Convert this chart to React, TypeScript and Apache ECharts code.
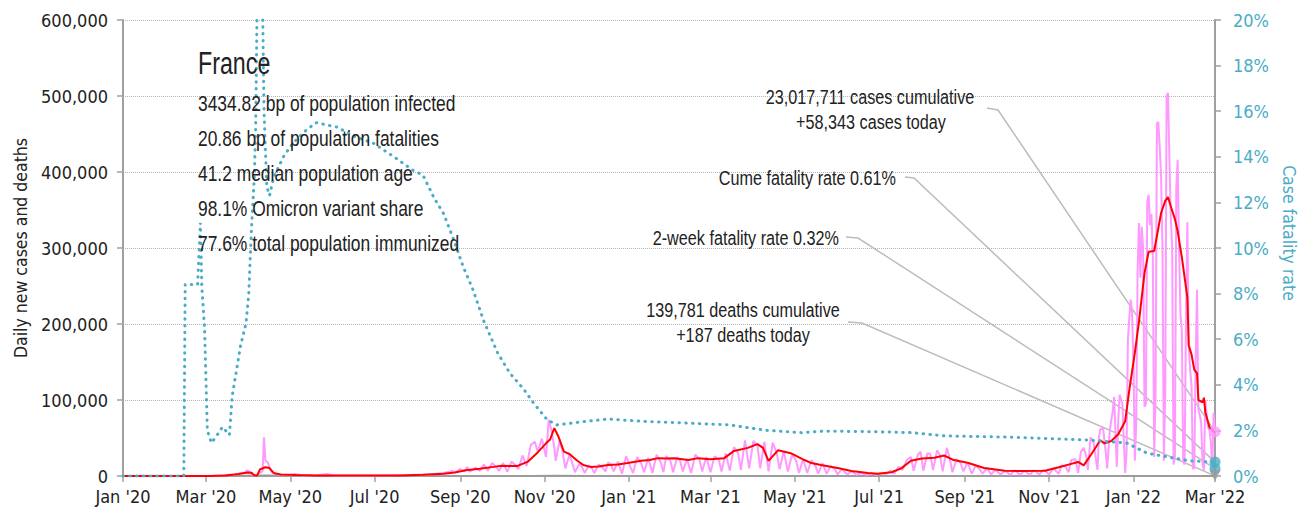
import React, { useEffect, useRef } from 'react';
import * as echarts from 'echarts';

const AXIS_FONT = '"DejaVu Sans Condensed", "Liberation Sans", sans-serif';
const TEXT_FONT = '"Liberation Sans", Arial, sans-serif';
const TEAL = '#4bacc6';
const PINK = '#ff99ff';
const RED = '#ff0000';
const AXIS_GRAY = '#a0a0a0';
const LEADER_GRAY = '#bcbcbc';
const TEXT = '#222222';

const xTickDates = [
  '2020-01-01', '2020-03-01', '2020-05-01', '2020-07-01', '2020-09-01', '2020-11-01',
  '2021-01-01', '2021-03-01', '2021-05-01', '2021-07-01', '2021-09-01', '2021-11-01',
  '2022-01-01', '2022-03-01',
];
const monthNames = ['Jan', 'Feb', 'Mar', 'Apr', 'May', 'Jun', 'Jul', 'Aug', 'Sep', 'Oct', 'Nov', 'Dec'];

const firstDate = '2020-01-01';
const lastDate = '2022-03-01';
const casesMax = 600000;
const casesInterval = 100000;
const cfrMax = 20;
const cfrInterval = 2;

// daily new cases (pink)
const dailyCases: [string, number][] = [
  ['2020-01-01', 0], ['2020-02-25', 0], ['2020-03-05', 150], ['2020-03-12', 500], ['2020-03-18', 1500],
  ['2020-03-22', 1800], ['2020-03-26', 3800], ['2020-03-29', 4600], ['2020-03-31', 7500], ['2020-04-02', 5200],
  ['2020-04-04', 1200], ['2020-04-06', 300], ['2020-04-09', 4000], ['2020-04-11', 6000], ['2020-04-12', 51000],
  ['2020-04-13', 21000], ['2020-04-15', 17000], ['2020-04-17', 6000], ['2020-04-20', 2500], ['2020-04-25', 1800],
  ['2020-05-01', 1200], ['2020-05-05', 2500], ['2020-05-10', 600], ['2020-05-20', 900], ['2020-05-28', 2800],
  ['2020-06-02', 500], ['2020-06-15', 600], ['2020-07-01', 700], ['2020-07-15', 900], ['2020-07-30', 1500],
  ['2020-08-10', 2000], ['2020-08-20', 4000], ['2020-08-26', 6500], ['2020-08-29', 5000], ['2020-09-01', 9500],
  ['2020-09-04', 6000], ['2020-09-06', 12000], ['2020-09-08', 5500], ['2020-09-12', 11000], ['2020-09-15', 6500],
  ['2020-09-18', 15000], ['2020-09-21', 7000], ['2020-09-24', 17000], ['2020-09-27', 12000], ['2020-09-29', 6500],
  ['2020-10-02', 17000], ['2020-10-05', 5500], ['2020-10-08', 19000], ['2020-10-11', 14000], ['2020-10-13', 9000],
  ['2020-10-16', 27000], ['2020-10-19', 13000], ['2020-10-22', 41000], ['2020-10-25', 45000], ['2020-10-27', 32000],
  ['2020-10-30', 49000], ['2020-11-02', 25000], ['2020-11-04', 74000], ['2020-11-06', 60000], ['2020-11-08', 38000],
  ['2020-11-09', 20000], ['2020-11-12', 48000], ['2020-11-14', 32000], ['2020-11-16', 10000], ['2020-11-19', 28000],
  ['2020-11-21', 17000], ['2020-11-23', 5000], ['2020-11-26', 16000], ['2020-11-28', 12000], ['2020-11-30', 4000],
  ['2020-12-03', 14000], ['2020-12-05', 11000], ['2020-12-07', 4000], ['2020-12-10', 15000], ['2020-12-13', 11000],
  ['2020-12-15', 6000], ['2020-12-17', 18000], ['2020-12-19', 15000], ['2020-12-21', 6000], ['2020-12-24', 19000],
  ['2020-12-27', 3000], ['2020-12-30', 26000], ['2021-01-02', 12000], ['2021-01-04', 4000], ['2021-01-07', 25000],
  ['2021-01-10', 16000], ['2021-01-12', 5000], ['2021-01-15', 24000], ['2021-01-18', 4000], ['2021-01-21', 28000],
  ['2021-01-24', 18000], ['2021-01-26', 5000], ['2021-01-28', 26000], ['2021-01-31', 20000], ['2021-02-02', 5000],
  ['2021-02-05', 25000], ['2021-02-07', 20000], ['2021-02-09', 6000], ['2021-02-12', 22000], ['2021-02-15', 4000],
  ['2021-02-18', 28000], ['2021-02-21', 22000], ['2021-02-23', 6000], ['2021-02-26', 25000], ['2021-03-01', 5000],
  ['2021-03-04', 26000], ['2021-03-07', 22000], ['2021-03-09', 6000], ['2021-03-12', 30000], ['2021-03-15', 7000],
  ['2021-03-18', 38000], ['2021-03-21', 30000], ['2021-03-23', 8000], ['2021-03-26', 47000], ['2021-03-29', 10000],
  ['2021-04-01', 46000], ['2021-04-04', 40000], ['2021-04-06', 10000], ['2021-04-09', 45000], ['2021-04-12', 6000],
  ['2021-04-15', 44000], ['2021-04-18', 30000], ['2021-04-20', 9000], ['2021-04-23', 33000], ['2021-04-26', 6000],
  ['2021-04-29', 28000], ['2021-05-02', 20000], ['2021-05-04', 4000], ['2021-05-07', 22000], ['2021-05-10', 4000],
  ['2021-05-13', 21000], ['2021-05-16', 13000], ['2021-05-18', 3000], ['2021-05-21', 17000], ['2021-05-24', 3000],
  ['2021-05-27', 13000], ['2021-05-30', 9000], ['2021-06-01', 2000], ['2021-06-04', 9000], ['2021-06-08', 2000],
  ['2021-06-11', 6000], ['2021-06-15', 1500], ['2021-06-18', 4000], ['2021-06-22', 1500], ['2021-06-25', 3500],
  ['2021-06-29', 1500], ['2021-07-02', 3500], ['2021-07-06', 2500], ['2021-07-09', 7000], ['2021-07-12', 3000],
  ['2021-07-15', 12000], ['2021-07-18', 8000], ['2021-07-21', 21000], ['2021-07-24', 25000], ['2021-07-26', 7000],
  ['2021-07-29', 28000], ['2021-07-31', 32000], ['2021-08-02', 7000], ['2021-08-05', 30000], ['2021-08-07', 29000],
  ['2021-08-09', 8000], ['2021-08-12', 34000], ['2021-08-14', 27000], ['2021-08-16', 6000], ['2021-08-19', 37000],
  ['2021-08-21', 24000], ['2021-08-23', 5000], ['2021-08-26', 22000], ['2021-08-29', 17000], ['2021-08-31', 6000],
  ['2021-09-03', 18000], ['2021-09-06', 3000], ['2021-09-09', 14000], ['2021-09-12', 8000], ['2021-09-14', 3000],
  ['2021-09-17', 11000], ['2021-09-20', 2000], ['2021-09-23', 8000], ['2021-09-27', 2000], ['2021-09-30', 7000],
  ['2021-10-04', 1500], ['2021-10-07', 7500], ['2021-10-11', 1500], ['2021-10-14', 7000], ['2021-10-18', 1500],
  ['2021-10-21', 7500], ['2021-10-25', 2000], ['2021-10-28', 8500], ['2021-11-01', 2000], ['2021-11-04', 10000],
  ['2021-11-08', 3000], ['2021-11-10', 14000], ['2021-11-13', 12000], ['2021-11-15', 5000], ['2021-11-17', 21000],
  ['2021-11-20', 22000], ['2021-11-22', 4000], ['2021-11-24', 32000], ['2021-11-26', 37000], ['2021-11-28', 25000],
  ['2021-11-29', 8000], ['2021-12-01', 51000], ['2021-12-03', 45000], ['2021-12-05', 20000], ['2021-12-06', 8000],
  ['2021-12-07', 50000], ['2021-12-08', 61000], ['2021-12-10', 64000], ['2021-12-12', 30000], ['2021-12-13', 10000],
  ['2021-12-15', 62000], ['2021-12-17', 85000], ['2021-12-18', 104000], ['2021-12-20', 12000], ['2021-12-21', 72000],
  ['2021-12-22', 107000], ['2021-12-24', 95000], ['2021-12-26', 4000], ['2021-12-27', 30000], ['2021-12-28', 180000],
  ['2021-12-29', 208000], ['2021-12-30', 232000], ['2021-12-31', 215000], ['2022-01-01', 150000], ['2022-01-02', 20000],
  ['2022-01-03', 67000], ['2022-01-04', 270000], ['2022-01-05', 333000], ['2022-01-06', 261000], ['2022-01-07', 328000],
  ['2022-01-08', 300000], ['2022-01-09', 91000], ['2022-01-10', 95000], ['2022-01-11', 360000], ['2022-01-12', 370000],
  ['2022-01-13', 330000], ['2022-01-14', 345000], ['2022-01-15', 290000], ['2022-01-16', 25000], ['2022-01-17', 104000],
  ['2022-01-18', 464000], ['2022-01-19', 466000], ['2022-01-20', 433000], ['2022-01-21', 394000], ['2022-01-22', 300000],
  ['2022-01-23', 20000], ['2022-01-24', 109000], ['2022-01-25', 500000], ['2022-01-26', 504000], ['2022-01-27', 420000],
  ['2022-01-28', 341000], ['2022-01-29', 300000], ['2022-01-30', 15000], ['2022-01-31', 25000], ['2022-02-01', 380000],
  ['2022-02-02', 416000], ['2022-02-03', 300000], ['2022-02-04', 214000], ['2022-02-05', 190000], ['2022-02-06', 20000],
  ['2022-02-07', 15000], ['2022-02-08', 200000], ['2022-02-09', 334000], ['2022-02-10', 170000], ['2022-02-11', 140000],
  ['2022-02-12', 120000], ['2022-02-13', 10000], ['2022-02-14', 10000], ['2022-02-15', 150000], ['2022-02-16', 245000],
  ['2022-02-17', 87000], ['2022-02-18', 80000], ['2022-02-19', 70000], ['2022-02-20', 15000], ['2022-02-21', 8000],
  ['2022-02-22', 100000], ['2022-02-23', 80000], ['2022-02-24', 64000], ['2022-02-25', 60000], ['2022-02-26', 45000],
  ['2022-02-27', 4000], ['2022-02-28', 83000], ['2022-03-01', 58343],
];

// 7-day average new cases (red)
const avgCases: [string, number][] = [
  ['2020-01-01', 0], ['2020-02-25', 0], ['2020-03-05', 100], ['2020-03-15', 600], ['2020-03-25', 2500],
  ['2020-03-31', 4500], ['2020-04-03', 4200], ['2020-04-05', 600], ['2020-04-07', 500], ['2020-04-09', 8500],
  ['2020-04-13', 11500], ['2020-04-16', 10500], ['2020-04-19', 4000], ['2020-04-24', 2000], ['2020-05-05', 1200],
  ['2020-05-20', 700], ['2020-06-10', 500], ['2020-07-01', 500], ['2020-07-20', 800], ['2020-08-05', 1500],
  ['2020-08-20', 3000], ['2020-08-28', 4500], ['2020-09-05', 7500], ['2020-09-15', 9500], ['2020-09-25', 12000],
  ['2020-10-01', 13500], ['2020-10-12', 13000], ['2020-10-20', 19000], ['2020-10-27', 31000], ['2020-11-02', 43000],
  ['2020-11-05', 48000], ['2020-11-08', 63000], ['2020-11-11', 52000], ['2020-11-15', 32000], ['2020-11-19', 29000],
  ['2020-11-24', 21000], ['2020-11-29', 14500], ['2020-12-04', 12000], ['2020-12-10', 12500], ['2020-12-17', 14500],
  ['2020-12-24', 15000], ['2020-12-31', 17000], ['2021-01-10', 20000], ['2021-01-16', 21000], ['2021-01-22', 23500],
  ['2021-01-28', 23000], ['2021-02-03', 23500], ['2021-02-13', 21000], ['2021-02-20', 23500], ['2021-03-01', 22000],
  ['2021-03-11', 23500], ['2021-03-18', 33000], ['2021-03-28', 37000], ['2021-04-04', 42000], ['2021-04-08', 37000],
  ['2021-04-12', 20000], ['2021-04-19', 34000], ['2021-04-28', 30000], ['2021-05-08', 21000], ['2021-05-13', 17000],
  ['2021-05-20', 14500], ['2021-06-01', 10500], ['2021-06-11', 6500], ['2021-06-23', 4000], ['2021-06-30', 3000],
  ['2021-07-10', 5000], ['2021-07-17', 10000], ['2021-07-24', 20000], ['2021-08-01', 23000], ['2021-08-10', 24000],
  ['2021-08-17', 27000], ['2021-08-24', 21000], ['2021-09-03', 17500], ['2021-09-15', 10500], ['2021-09-30', 7000],
  ['2021-10-14', 6500], ['2021-10-29', 7000], ['2021-11-08', 11500], ['2021-11-17', 16000], ['2021-11-22', 18500],
  ['2021-11-26', 14000], ['2021-12-02', 30000], ['2021-12-08', 47000], ['2021-12-11', 43000], ['2021-12-16', 46000],
  ['2021-12-21', 55000], ['2021-12-26', 72000], ['2021-12-29', 113000], ['2022-01-02', 162000], ['2022-01-05', 203000],
  ['2022-01-09', 267000], ['2022-01-12', 295000], ['2022-01-16', 296000], ['2022-01-21', 346000], ['2022-01-24', 362000],
  ['2022-01-26', 367000], ['2022-01-28', 355000], ['2022-01-31', 338000], ['2022-02-02', 322000], ['2022-02-05', 288000],
  ['2022-02-09', 235000], ['2022-02-10', 172000], ['2022-02-12', 160000], ['2022-02-14', 140000], ['2022-02-16', 135000],
  ['2022-02-17', 100000], ['2022-02-20', 97000], ['2022-02-21', 103000], ['2022-02-22', 84000], ['2022-02-25', 64000],
  ['2022-03-01', 57000],
];

// daily deaths (grey)
const dailyDeaths: [string, number][] = [
  ['2020-01-01', 0], ['2020-03-10', 10], ['2020-03-25', 300], ['2020-04-05', 1000], ['2020-04-15', 900],
  ['2020-05-01', 300], ['2020-06-01', 50], ['2020-08-01', 20], ['2020-10-01', 60], ['2020-11-10', 600],
  ['2020-12-01', 400], ['2021-01-15', 350], ['2021-04-15', 350], ['2021-06-15', 50], ['2021-08-20', 130],
  ['2021-10-15', 30], ['2021-12-15', 150], ['2022-02-01', 250], ['2022-03-01', 187],
];

// case fatality rate, % (teal, right axis)
const caseFatalityRate: [string, number][] = [
  ['2020-01-01', 0], ['2020-02-14', 0], ['2020-02-15', 8.4], ['2020-02-24', 8.4], ['2020-02-26', 11.1],
  ['2020-02-27', 8.3], ['2020-02-29', 6.5], ['2020-03-02', 2.0], ['2020-03-05', 1.45], ['2020-03-08', 1.7],
  ['2020-03-13', 2.15], ['2020-03-18', 1.8], ['2020-03-20', 3.5], ['2020-03-23', 4.6], ['2020-03-26', 5.7],
  ['2020-03-30', 6.7], ['2020-04-01', 8.0], ['2020-04-02', 9.5], ['2020-04-03', 10.9], ['2020-04-05', 13.1],
  ['2020-04-06', 15.3], ['2020-04-07', 20.5], ['2020-04-09', 24], ['2020-04-11', 20.5], ['2020-04-12', 16],
  ['2020-04-14', 12.7], ['2020-04-16', 12.3], ['2020-04-19', 13.1], ['2020-04-26', 14.0], ['2020-05-03', 14.6],
  ['2020-05-13', 15.2], ['2020-05-20', 15.5], ['2020-05-27', 15.4], ['2020-06-04', 15.3], ['2020-06-16', 14.9],
  ['2020-06-30', 14.6], ['2020-07-15', 14.0], ['2020-07-29', 13.4], ['2020-08-05', 13.2], ['2020-08-13', 12.2],
  ['2020-08-20', 11.5], ['2020-08-27', 10.4], ['2020-09-03', 9.2], ['2020-09-10', 8.2], ['2020-09-18', 6.8],
  ['2020-09-28', 5.4], ['2020-10-07', 4.5], ['2020-10-17', 3.8], ['2020-10-24', 3.2], ['2020-11-03', 2.46],
  ['2020-11-10', 2.24], ['2020-11-27', 2.37], ['2020-12-17', 2.5], ['2021-01-10', 2.4], ['2021-02-20', 2.3],
  ['2021-03-15', 2.24], ['2021-04-11', 2.0], ['2021-05-06', 1.9], ['2021-05-22', 1.97], ['2021-06-30', 1.94],
  ['2021-07-25', 1.9], ['2021-08-17', 1.76], ['2021-10-05', 1.7], ['2021-11-29', 1.58], ['2021-12-16', 1.5],
  ['2021-12-27', 1.45], ['2022-01-11', 1.0], ['2022-01-26', 0.83], ['2022-02-11', 0.66], ['2022-03-01', 0.61],
];

const casesToday = 58343;
const deathsToday = 187;
const cumeFatalityRate = 0.61;
const twoWeekFatalityRate = 0.32;

const countryName = 'France';
const infoLines = [
  '3434.82 bp of population infected',
  '20.86 bp of population fatalities',
  '41.2 median population age',
  '98.1% Omicron variant share',
  '77.6% total population immunized',
];

const toTs = (s: string) => {
  const [y, m, d] = s.split('-').map(Number);
  return new Date(y, m - 1, d).getTime();
};
const conv = (arr: [string, number][]) => arr.map(([d, v]) => [toTs(d), v]);
const fmtDate = (v: number) => {
  const d = new Date(v);
  return `${monthNames[d.getMonth()]} '${String(d.getFullYear()).slice(2)}`;
};

export default function App() {
  const ref = useRef<HTMLDivElement>(null);
  useEffect(() => {
    if (!ref.current) return;
    const chart = echarts.init(ref.current, undefined, { renderer: 'svg' });
    const tickTs = xTickDates.map(toTs);
    const endTs = toTs(lastDate);
    const axisFont = { fontFamily: AXIS_FONT, fontSize: 18 };

    chart.setOption({
      animation: false,
      backgroundColor: '#ffffff',
      grid: { left: 123, right: 91, top: 20, bottom: 37, containLabel: false, outerBoundsMode: 'none' },
      xAxis: {
        type: 'value',
        min: toTs(firstDate),
        max: endTs,
        axisLine: { show: true, onZero: false, lineStyle: { color: AXIS_GRAY, width: 2 } },
        axisTick: { show: true, length: 6, customValues: tickTs, lineStyle: { color: AXIS_GRAY, width: 1.5 } },
        axisLabel: {
          customValues: tickTs,
          formatter: (v: number) => fmtDate(v),
          color: TEXT,
          margin: 11,
          hideOverlap: false,
          showMinLabel: true,
          showMaxLabel: true,
          ...axisFont,
        },
        splitLine: { show: false },
      },
      yAxis: [
        {
          type: 'value',
          min: 0,
          max: casesMax,
          interval: casesInterval,
          position: 'left',
          name: 'Daily new cases and deaths',
          nameLocation: 'middle',
          nameGap: 80,
          nameTextStyle: { color: TEXT, ...axisFont, fontSize: 17.5 },
          axisLine: { show: true, lineStyle: { color: AXIS_GRAY, width: 2 } },
          axisTick: { show: true, length: 6, lineStyle: { color: AXIS_GRAY, width: 1.5 } },
          axisLabel: {
            color: TEXT,
            margin: 15,
            formatter: (v: number) => v.toLocaleString('en-US'),
            ...axisFont,
          },
          splitLine: { show: true, lineStyle: { color: '#b4b4b4', type: 'dotted', width: 1 } },
        },
        {
          type: 'value',
          min: 0,
          max: cfrMax,
          interval: cfrInterval,
          position: 'right',
          name: 'Case fatality rate',
          nameLocation: 'middle',
          nameGap: 56,
          nameRotate: -90,
          nameTextStyle: { color: TEAL, ...axisFont, fontSize: 17.5, padding: [0, 30, 0, 0] },
          axisLine: { show: true, lineStyle: { color: AXIS_GRAY, width: 2 } },
          axisTick: { show: true, length: 6, lineStyle: { color: AXIS_GRAY, width: 1.5 } },
          axisLabel: { color: TEAL, margin: 18, formatter: (v: number) => `${v}%`, ...axisFont },
          splitLine: { show: false },
        },
      ],
      series: [
        {
          name: 'Daily deaths',
          type: 'line',
          yAxisIndex: 0,
          data: conv(dailyDeaths),
          symbol: 'none',
          lineStyle: { color: '#9a9a9a', width: 1.5 },
          z: 2,
        },
        {
          name: 'Daily cases',
          type: 'line',
          yAxisIndex: 0,
          data: conv(dailyCases),
          symbol: 'none',
          lineStyle: { color: PINK, width: 2 },
          z: 3,
        },
        {
          name: '7-day average',
          type: 'line',
          yAxisIndex: 0,
          data: conv(avgCases),
          symbol: 'none',
          lineStyle: { color: RED, width: 2 },
          z: 4,
        },
        {
          name: 'Case fatality rate',
          type: 'line',
          yAxisIndex: 1,
          data: conv(caseFatalityRate),
          symbol: 'none',
          lineStyle: { color: TEAL, width: 3, type: [0.5, 6.3], cap: 'round' },
          z: 5,
        },
        {
          type: 'scatter',
          yAxisIndex: 0,
          data: [[endTs, casesToday]],
          symbol: 'circle',
          symbolSize: 11,
          itemStyle: { color: PINK },
          clip: false,
          z: 6,
        },
        {
          type: 'scatter',
          yAxisIndex: 1,
          data: [[endTs, cumeFatalityRate], [endTs, twoWeekFatalityRate]],
          symbol: 'circle',
          symbolSize: 11,
          itemStyle: { color: TEAL },
          clip: false,
          z: 6,
        },
        {
          type: 'scatter',
          yAxisIndex: 0,
          data: [[endTs, deathsToday]],
          symbol: 'triangle',
          symbolRotate: 180,
          symbolSize: 11,
          itemStyle: { color: '#9a9a9a' },
          clip: false,
          z: 6,
        },
      ],
    });

    const pCases = chart.convertToPixel({ xAxisIndex: 0, yAxisIndex: 0 }, [endTs, casesToday]) as number[];
    const pCume = chart.convertToPixel({ xAxisIndex: 0, yAxisIndex: 1 }, [endTs, cumeFatalityRate]) as number[];
    const pTwo = chart.convertToPixel({ xAxisIndex: 0, yAxisIndex: 1 }, [endTs, twoWeekFatalityRate]) as number[];
    const pDeaths = chart.convertToPixel({ xAxisIndex: 0, yAxisIndex: 0 }, [endTs, deathsToday]) as number[];

    const leader = (pts: number[][]) => ({
      type: 'polyline',
      shape: { points: pts },
      style: { stroke: LEADER_GRAY, lineWidth: 1.5, fill: null },
      z: 1,
      silent: true,
    });
    const txt = (text: string, x: number, y: number, align: string, size = 20, sx = 0.81) => ({
      type: 'text',
      x,
      y,
      scaleX: sx,
      style: { text, fill: TEXT, font: `${size}px ${TEXT_FONT}`, textAlign: align, textVerticalAlign: 'middle' },
      z: 10,
    });

    const infoY = [103, 138, 173, 208, 243];
    chart.setOption({
      graphic: [
        leader([[987, 108], [998, 110], pCases]),
        leader([[905, 177], [914, 178], pCume]),
        leader([[846, 237], [858, 238], pTwo]),
        leader([[848, 322], [862, 323], pDeaths]),
        txt(countryName, 198, 63, 'left', 31, 0.75),
        ...infoLines.map((l, i) => txt(l, 198, infoY[i], 'left', 21.5, 0.81)),
        txt('23,017,711 cases cumulative', 870, 97, 'center'),
        txt('+58,343 cases today', 871, 122, 'center'),
        txt('Cume fatality rate 0.61%', 896, 178, 'right'),
        txt('2-week fatality rate 0.32%', 839, 238, 'right'),
        txt('139,781 deaths cumulative', 743, 310, 'center'),
        txt('+187 deaths today', 743, 335, 'center'),
      ],
    });

    return () => chart.dispose();
  }, []);
  return (
    <div
      ref={ref}
      style={{ position: 'fixed', left: 0, top: 0, width: '1306px', height: '513px', background: '#fff' }}
    />
  );
}
